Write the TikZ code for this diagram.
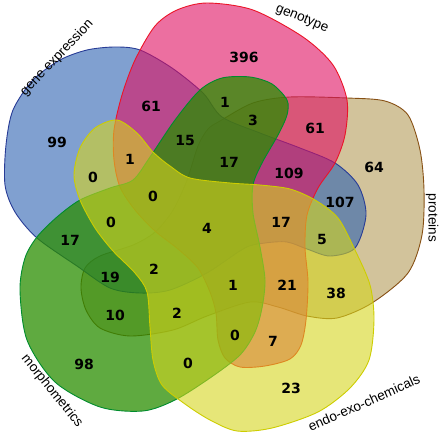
\documentclass[tikz,border=0pt]{standalone}
\usepackage{fontspec}
\setmainfont{Liberation Sans}
\newfontfamily\numfont{DejaVu Sans}
\usetikzlibrary{positioning}

\definecolor{bluefill}{RGB}{43,97,177}
\definecolor{blueline}{RGB}{40,60,150}
\definecolor{pinkfill}{RGB}{223,15,97}
\definecolor{pinkline}{RGB}{235,20,40}
\definecolor{protfill}{RGB}{180,155,88}
\definecolor{protline}{RGB}{135,80,20}
\definecolor{yelfill}{RGB}{213,213,30}
\definecolor{yelline}{RGB}{205,205,0}
\definecolor{greenfill}{RGB}{41,141,0}
\definecolor{greenline}{RGB}{0,140,45}

\begin{document}
\begin{tikzpicture}[x=1pt,y=-1pt]

\tikzset{blob/.style={
    draw=#1line,
    fill=#1fill,
    fill opacity=0.6,
    line width=0.9pt
  },
  num/.style={font=\numfont\bfseries\fontsize{14}{14}\selectfont, inner sep=0pt},
  setlabel/.style={font=\fontsize{13.5}{13.5}\selectfont, inner sep=0pt}
}

\useasboundingbox (0,0) rectangle (440,436);

\draw[blob=prot] plot[smooth cycle] coordinates {
 (220,121) (253,103) (290,97) (347,98) (385,101) (408,115) (420,150) (424,190)
 (422,235) (408,273) (372,303) (337,318) (307,316) (278,307) (250,302) (207,316)
 (173,330) (130,336) (100,328) (86,310) (81,288) (85,268) (100,256) (133,245)
 (155,232) (173,210) (187,180) (198,146) (208,129)};
\draw[blob=blue] plot[smooth cycle] coordinates {
 (140,50) (172,68) (203,93) (222,117) (260,133) (300,148) (335,163) (358,185)
 (366,215) (355,248) (330,256) (307,249) (287,242) (265,243) (245,248) (207,273)
 (170,290) (140,293) (110,288) (77,266) (37,238) (15,212) (5,185) (6,145)
 (13,110) (33,80) (60,60) (87,50) (115,47)};
\draw[blob=pink] plot[smooth cycle] coordinates {
 (207,3) (253,10) (303,37) (333,65) (347,100) (345,135) (335,163) (318,188)
 (307,215) (305,247) (308,282) (306,320) (301,345) (290,359) (265,366) (240,367)
 (225,358) (218,340) (216,313) (210,292) (198,268) (178,249) (155,231) (135,210)
 (120,187) (114,160) (114,130) (122,95) (135,60) (155,26) (177,10)};
\draw[blob=green, fill opacity=0.75] plot[smooth cycle] coordinates {
 (200,90) (222,78) (250,77) (272,84) (287,100) (287,115) (278,135) (262,163)
 (253,185) (253,213) (260,247) (265,280) (262,308) (255,332) (240,355) (210,378)
 (175,400) (143,411) (100,407) (55,382) (27,340) (20,290) (25,258) (37,237)
 (57,217) (80,200) (110,188) (133,180) (150,157) (175,120)};
\draw[blob=yel] plot[smooth cycle] coordinates {
 (80,148) (95,128) (117,120) (137,133) (153,152) (170,166) (190,178) (230,183)
 (260,185) (290,189) (315,200) (338,218) (355,250) (370,285) (374,320) (369,360)
 (350,388) (318,412) (272,428) (237,431) (210,420) (185,404) (162,385) (153,360)
 (150,327) (147,292) (135,273) (113,251) (95,228) (80,200) (74,175)};

\foreach \p/\t [count=\i] in {
  {57,142}/99, {244,57}/396, {374,167}/64, {291,388}/23, {84,364}/98,
  {151,106}/61, {225,102}/1, {253,120}/3, {315,128}/61, {289,173}/109,
  {340,202}/107, {185,140}/15, {229,162}/17, {130,159}/1, {93,177}/0,
  {153,196}/0, {111,222}/0, {70,240}/17, {207,228}/4, {281,222}/17,
  {322,239}/5, {110,277}/19, {154,269}/2, {233,285}/1, {287,285}/21,
  {336,293}/38, {115,315}/10, {177,313}/2, {188,363}/0, {235,335}/0,
  {273,341}/7}
  \node[num] (n\i) at (\p) {\t};

\node[setlabel, rotate=46.5] (lblgene) at (57,58) {gene expression};
\node[setlabel, rotate=-22] (lblgeno) at (302,19) {genotype};
\node[setlabel, rotate=-90] (lblprot) at (432,218) {proteins};
\node[setlabel, rotate=24] (lblchem) at (364,403) {endo-exo-chemicals};
\node[setlabel, rotate=-51] (lblmorph) at (52,391) {morphometrics};

\end{tikzpicture}
\end{document}
